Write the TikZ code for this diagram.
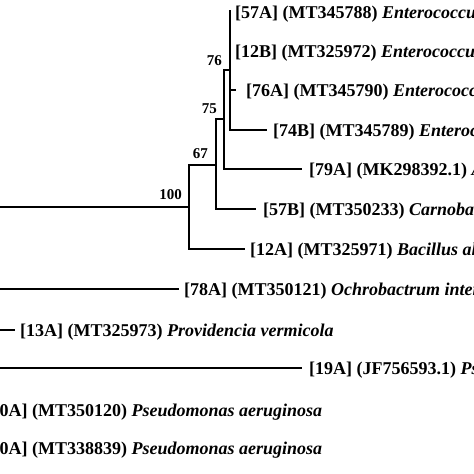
\documentclass[tikz,border=0pt]{standalone}
\usepackage{fontspec}
\setmainfont{Liberation Serif}

\begin{document}
\begin{tikzpicture}[x=1pt, y=-1pt]
	\tikzset{
		branch/.style={line width=1.3pt},
		taxon/.style={anchor=base west, inner sep=0pt, font=\fontsize{18}{20}\selectfont\bfseries},
		boot/.style={anchor=base east, inner sep=0pt, font=\fontsize{15}{17}\selectfont\bfseries},
	}
	\useasboundingbox (0,0) rectangle (474,474);
	\clip (0,0) rectangle (474,474);

	% inner nodes of the tree
	\coordinate (n100) at (189,207);
	\coordinate (n67) at (216,165);
	\coordinate (n75) at (224,119);
	\coordinate (n76) at (230,70);

	% stems coming in from the part of the tree left of the frame
	\coordinate (s100) at (-10,207);
	\coordinate (s78A) at (-10,289);
	\coordinate (s13A) at (-10,330);
	\coordinate (s19A) at (-10,368);

	% tips
	\coordinate (t57A) at (230,10);
	\coordinate (t12B) at (230,51);
	\coordinate (t76A) at (236,90);
	\coordinate (t74B) at (267,130);
	\coordinate (t79A) at (302,169);
	\coordinate (t57B) at (256,209);
	\coordinate (t12A) at (245,249);
	\coordinate (t78A) at (179,289);
	\coordinate (t13A) at (15,330);
	\coordinate (t19A) at (302,368);

	\draw[branch] (n76) |- (t57A);
	\draw[branch] (n76) |- (t12B);
	\draw[branch] (n76) |- (t76A);
	\draw[branch] (n76) |- (t74B);
	\draw[branch] (n75) |- (n76);
	\draw[branch] (n75) |- (t79A);
	\draw[branch] (n67) |- (n75);
	\draw[branch] (n67) |- (t57B);
	\draw[branch] (n100) |- (n67);
	\draw[branch] (n100) |- (t12A);
	\draw[branch] (s100) -- (n100);
	\draw[branch] (s78A) -- (t78A);
	\draw[branch] (s13A) -- (t13A);
	\draw[branch] (s19A) -- (t19A);

	% bootstrap values
	\node[boot] (b76) at (222,65) {76};
	\node[boot] (b75) at (217,113) {75};
	\node[boot] (b67) at (208,158) {67};
	\node[boot] (b100) at (182,199) {100};

	% taxa
	\node[taxon] (l57A) at (235,18) {[57A] (MT345788) \textit{Enterococcus faecium}};
	\node[taxon] (l12B) at (235,57) {[12B] (MT325972) \textit{Enterococcus faecium}};
	\node[taxon] (l76A) at (246,96) {[76A] (MT345790) \textit{Enterococcus faecium}};
	\node[taxon] (l74B) at (273,136) {[74B] (MT345789) \textit{Enterococcus faecium}};
	\node[taxon] (l79A) at (309,175) {[79A] (MK298392.1) \textit{Aerococcus viridans}};
	\node[taxon] (l57B) at (263,215) {[57B] (MT350233) \textit{Carnobacterium maltaromaticum}};
	\node[taxon] (l12A) at (250,255) {[12A] (MT325971) \textit{Bacillus altitudinis}};
	\node[taxon] (l78A) at (184,295) {[78A] (MT350121) \textit{Ochrobactrum intermedium}};
	\node[taxon] (l13A) at (20,336) {[13A] (MT325973) \textit{Providencia vermicola}};
	\node[taxon] (l19A) at (309,374) {[19A] (JF756593.1) \textit{Pseudomonas aeruginosa}};
	\node[taxon] (l20A) at (-15.5,416) {[20A] (MT350120) \textit{Pseudomonas aeruginosa}};
	\node[taxon] (l30A) at (-15.5,454) {[30A] (MT338839) \textit{Pseudomonas aeruginosa}};
\end{tikzpicture}
\end{document}
